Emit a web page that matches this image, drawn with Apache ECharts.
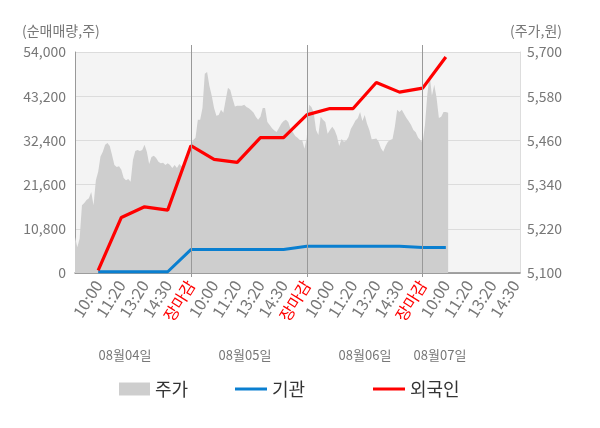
<!DOCTYPE html>
<html>
<head>
<meta charset="utf-8">
<script src="https://cdn.jsdelivr.net/npm/echarts@6/dist/echarts.min.js"></script>
<style>
html,body{margin:0;padding:0;background:#fff;}
#chart{width:600px;height:428px;}
</style>
</head>
<body>
<div id="chart"></div>
<script>
// ---- data ----
const tickLabels = ['10:00', '11:20', '13:20', '14:30', '장마감'];
const dayLabels = ['08월04일', '08월05일', '08월06일', '08월07일'];
const slotsPerLabel = 10;     // categories between two tick labels
const categoryCount = 193;

// 주가 (price, right axis) per category
const price = [
  5198,5170,5194,5284,5290,5298,5303,5320,5284,5352,
  5375,5416,5429,5448,5453,5445,5420,5393,5388,5390,
  5380,5358,5352,5355,5348,5407,5431,5434,5431,5434,
  5448,5429,5396,5415,5418,5412,5402,5398,5399,5393,
  5398,5393,5385,5393,5385,5396,5390,5396,5399,5420,
  5448,5461,5467,5516,5516,5548,5641,5646,5608,5581,
  5548,5527,5529,5543,5535,5570,5603,5597,5573,5552,
  5554,5554,5554,5557,5551,5547,5542,5536,5524,5516,
  5524,5548,5548,5510,5502,5493,5487,5483,5494,5505,
  5513,5516,5510,5491,5482,5472,5467,5461,5461,5437,
  5467,5557,5551,5535,5488,5475,5524,5516,5510,5478,
  5488,5497,5488,5472,5445,5464,5456,5459,5469,5491,
  5502,5514,5520,5537,5513,5529,5505,5488,5463,5464,
  5465,5456,5439,5429,5445,5456,5461,5464,5497,5543,
  5537,5543,5532,5521,5512,5502,5488,5482,5468,5461,
  5454,5502,5584,5638,5581,5611,5576,5521,5524,5537,
  5537,5535
];
// 외국인 / 기관 cumulative net volume at each tick label
const foreignNet = [660,13570,16170,15360,31100,27780,27050,33080,33080,38640,40180,40180,46550,44200,45180,52770];
const institNet  = [300,300,300,300,5730,5730,5730,5730,5730,6540,6540,6540,6540,6540,6220,6220];

// ---- build ----
const categories = [];
for (let i = 0; i < categoryCount; i++) {
  if (i > 0 && i % slotsPerLabel === 0) categories.push(tickLabels[(i / slotsPerLabel - 1) % tickLabels.length]);
  else categories.push('');
}
const foreignData = foreignNet.map((v, k) => [(k + 1) * slotsPerLabel, v]);
const institData = institNet.map((v, k) => [(k + 1) * slotsPerLabel, v]);
const currentIdx = foreignNet.length * slotsPerLabel;
const daySplitIdx = [1, 2, 3].map(d => d * slotsPerLabel * tickLabels.length);

function comma(v) { return String(v).replace(/\B(?=(\d{3})+(?!\d))/g, ','); }

const FONT = '"Noto Sans CJK KR", "Noto Sans", sans-serif';
const chart = echarts.init(document.getElementById('chart'), null, { renderer: 'canvas' });

const dayCenters = [125, 245, 365, 440];

chart.setOption({
  animation: false,
  textStyle: { fontFamily: FONT },
  grid: { left: 75, right: 80, top: 52, bottom: 155, show: true, backgroundColor: '#f4f4f4', borderWidth: 0 },
  legend: [
    { data: ['주가'], left: 114, top: 375, icon: 'rect', itemWidth: 31, itemHeight: 13, itemGap: 8,
      textStyle: { fontSize: 18, color: '#333', fontFamily: FONT } },
    { data: ['기관'], left: 230, top: 375, icon: 'rect', itemWidth: 32, itemHeight: 3, itemGap: 8,
      textStyle: { fontSize: 18, color: '#333', fontFamily: FONT } },
    { data: ['외국인'], left: 368, top: 375, icon: 'rect', itemWidth: 32, itemHeight: 3, itemGap: 8,
      textStyle: { fontSize: 18, color: '#333', fontFamily: FONT } }
  ],
  xAxis: {
    type: 'category',
    data: categories,
    boundaryGap: false,
    axisLine: { show: true, lineStyle: { color: '#888', width: 1.5 } },
    axisTick: { show: false },
    axisLabel: {
      interval: slotsPerLabel - 1,
      rotate: 58,
      fontSize: 16,
      margin: 9,
      fontFamily: FONT,
      color: function (value, index) {
        if (value === '장마감') return '#ff0000';
        if (index === currentIdx) return '#222';
        return '#777';
      }
    },
    splitLine: { show: false }
  },
  yAxis: [
    {
      type: 'value', min: 0, max: 54000, interval: 10800, position: 'left',
      axisLine: { show: true, lineStyle: { color: '#999' } },
      axisTick: { show: false },
      axisLabel: { fontSize: 14, color: '#777', margin: 9, formatter: comma, fontFamily: FONT },
      splitLine: { show: true, lineStyle: { color: '#dcdcdc', width: 1 } }
    },
    {
      type: 'value', min: 5100, max: 5700, interval: 120, position: 'right',
      axisLine: { show: true, lineStyle: { color: '#ddd' } },
      axisTick: { show: false },
      axisLabel: { fontSize: 14, color: '#777', margin: 7, formatter: comma, fontFamily: FONT },
      splitLine: { show: false }
    }
  ],
  series: [
    {
      name: '주가', type: 'line', yAxisIndex: 1, data: price,
      symbol: 'none', showSymbol: false, color: '#cecece',
      lineStyle: { width: 0 },
      areaStyle: { color: '#cecece', opacity: 1, origin: 'start' },
      markLine: {
        silent: true, symbol: 'none', label: { show: false },
        lineStyle: { color: '#999', width: 1, type: 'solid' },
        data: daySplitIdx.map(i => [{ xAxis: i, y: 45 }, { xAxis: i, y: 277 }])
      },
      z: 1
    },
    {
      name: '기관', type: 'line', yAxisIndex: 0, data: institData,
      symbol: 'none', showSymbol: false, color: '#0a7fd0',
      lineStyle: { width: 3, color: '#0a7fd0' }, z: 3
    },
    {
      name: '외국인', type: 'line', yAxisIndex: 0, data: foreignData,
      symbol: 'none', showSymbol: false, color: '#ff0000',
      lineStyle: { width: 3.2, color: '#ff0000' }, z: 4
    }
  ],
  graphic: [
    { type: 'text', left: 22, top: 24, style: { text: '(순매매량,주)', font: '14px ' + FONT, fill: '#777' } },
    { type: 'text', left: 510, top: 24, style: { text: '(주가,원)', font: '14px ' + FONT, fill: '#777' } }
  ].concat(dayLabels.map((t, k) => ({
    type: 'text', x: dayCenters[k], y: 355,
    style: { text: t, font: '13px ' + FONT, fill: '#777', align: 'center', verticalAlign: 'middle' }
  })))
});
</script>
</body>
</html>
